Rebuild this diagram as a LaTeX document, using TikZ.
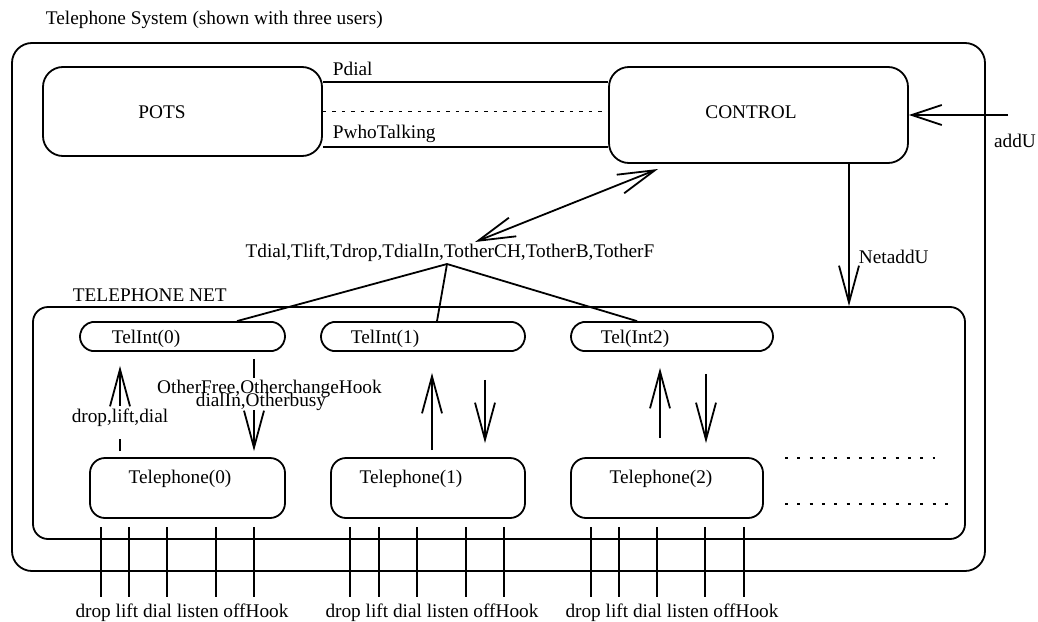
\documentclass[tikz,border=0pt]{standalone}
\usepackage{fontspec}
\setmainfont{Liberation Serif}
\usetikzlibrary{arrows.meta,shapes.misc,calc}
\begin{document}
\begin{tikzpicture}[x=1pt,y=-1pt,
  font=\fontsize{19.3}{21}\selectfont,
  line width=1.8pt,
  box/.style={draw, rectangle, rounded corners=#1, inner sep=0pt},
  capsule/.style={draw, rounded rectangle, rounded rectangle arc length=160, inner sep=0pt, minimum height=29pt},
  txt/.style={inner sep=0pt, anchor=base},
  txtw/.style={inner sep=0pt, anchor=base west},
  barb/.style={-{Straight Barb[length=37pt,width=20pt]}},
  sbarb/.style={-{Straight Barb[length=30pt,width=20pt]}},
  dbarb/.style={{Straight Barb[length=37pt,width=20pt]}-{Straight Barb[length=37pt,width=20pt]}},
  dotline/.style={line width=1.6pt, dash pattern=on 3pt off 9.3pt},
  thindash/.style={line width=1pt, dash pattern=on 3.5pt off 6pt}
]
\useasboundingbox (0,0) rectangle (1038,621);

% title
\node[txtw] (title) at (45,24) {Telephone System (shown with three users)};

% outer system box
\node[box=20pt, minimum width=973pt, minimum height=528pt] (sys) at (498.5,307) {};

% POTS and CONTROL
\node[box=20pt, minimum width=279pt, minimum height=89pt] (pots) at (182.5,111.5) {};
\node[txt] (potsl) at (162,118) {POTS};
\node[box=20pt, minimum width=299pt, minimum height=96pt] (control) at (758.5,115) {};
\node[txt] (controll) at (751,118) {CONTROL};

% POTS - CONTROL channels
\draw (pots.east |- 0,82) -- (control.west |- 0,82);
\draw[thindash] (pots.east |- 0,111) -- (control.west |- 0,111);
\draw (pots.east |- 0,147) -- (control.west |- 0,147);
\node[txtw] (pdial) at (332,75) {Pdial};
\node[txtw] (pwho) at (332,138) {PwhoTalking};

% addU
\coordinate (addUin) at (1008,115);
\draw[sbarb] (addUin) -- (control.east);
\node[txt] (addU) at (1015,147) {addU};

% Telephone net
\node[box=15pt, minimum width=932pt, minimum height=232pt] (net) at (499,423) {};
\node[txtw] (netl) at (72,301) {TELEPHONE NET};

% NetaddU
\draw[barb] (control.south -| 849,0) -- (net.north -| 849,0);
\node[txtw] (netadd) at (858,263) {NetaddU};

% TelInt nodes
\node[capsule, minimum width=205pt] (t0) at (182.5,336.5) {};
\node[capsule, minimum width=204pt] (t1) at (423,336.5) {};
\node[capsule, minimum width=202pt] (t2) at (672,336.5) {};
\node[txt] (t0l) at (146,343) {TelInt(0)};
\node[txt] (t1l) at (385,343) {TelInt(1)};
\node[txt] (t2l) at (635,343) {Tel(Int2)};

% T-signals label and double arrow
\node[txt] (tl) at (450,257) {Tdial,Tlift,Tdrop,TdialIn,TotherCH,TotherB,TotherF};
\coordinate (ca) at (658,169);
\coordinate (ta) at (475,242);
\draw[dbarb] (ta) -- (ca);

% fan
\coordinate (fan) at (447,264);
\draw (fan) -- ($(t0.north)+(54.5,0)$);
\draw (fan) -- ($(t1.north)+(14,0)$);
\draw (fan) -- ($(t2.north)+(-35,0)$);

% Telephone nodes
\node[box=15pt, minimum width=195pt, minimum height=60pt] (tel0) at (187.5,488) {};
\node[box=15pt, minimum width=194pt, minimum height=60pt] (tel1) at (428,488) {};
\node[box=15pt, minimum width=192pt, minimum height=60pt] (tel2) at (667,488) {};
\node[txt] (tel0l) at (180,483) {Telephone(0)};
\node[txt] (tel1l) at (411,483) {Telephone(1)};
\node[txt] (tel2l) at (661,483) {Telephone(2)};

% TelInt(0) <-> Telephone(0)
\draw ($(tel0.north -| 120,0)+(0,-6)$) -- ($(tel0.north -| 120,0)+(0,-18)$);
\draw[barb] ($(t0.south -| 120,0)+(0,54)$) -- ($(t0.south -| 120,0)+(0,14)$);
\node[txt] (dld) at (120,422) {drop,lift,dial};
\draw ($(t0.south -| 254,0)+(0,7)$) -- ($(t0.south -| 254,0)+(0,26)$);
\draw[barb] ($(tel0.north -| 254,0)+(0,-47)$) -- ($(tel0.north -| 254,0)+(0,-6)$);
\node[txt] (ofl) at (269.5,393) {OtherFree,OtherchangeHook};
\node[txt] (dil) at (261,406) {dialIn,Otherbusy};

% TelInt(1) <-> Telephone(1)
\draw[barb] ($(tel1.north -| 432,0)+(0,-7)$) -- ($(t1.south -| 432,0)+(0,21)$);
\draw[barb] ($(t1.south -| 485,0)+(0,28)$) -- ($(tel1.north -| 485,0)+(0,-14)$);

% Tel(Int2) <-> Telephone(2)
\draw[barb] ($(tel2.north -| 660,0)+(0,-19)$) -- ($(t2.south -| 660,0)+(0,16)$);
\draw[barb] ($(t2.south -| 706,0)+(0,22)$) -- ($(tel2.north -| 706,0)+(0,-14)$);

% more users
\coordinate (d1a) at (785,458); \coordinate (d1b) at (935,458);
\coordinate (d2a) at (785,504); \coordinate (d2b) at (948,504);
\draw[dotline] (d1a) -- (d1b);
\draw[dotline] (d2a) -- (d2b);

% wires
\foreach \x in {101,129,167,216,254,350,379,417,466,504,591,619,657,705,744}
  \draw (\x,527) -- (\x,597);
\node[txt] (w0) at (182,617) {drop lift dial listen offHook};
\node[txt] (w1) at (432,617) {drop lift dial listen offHook};
\node[txt] (w2) at (672,617) {drop lift dial listen offHook};
\end{tikzpicture}
\end{document}
